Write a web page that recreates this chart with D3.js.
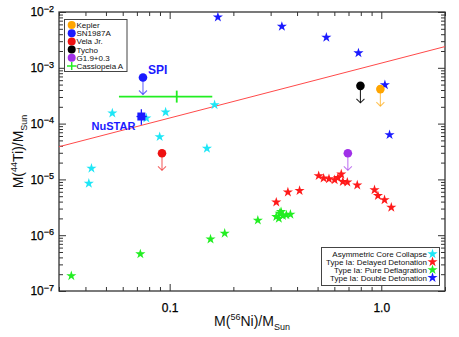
<!DOCTYPE html>
<html>
<head>
<meta charset="utf-8">
<script src="https://cdn.jsdelivr.net/npm/d3@7"></script>
<style>
  body { margin: 0; background: #fff; }
  svg { display: block; font-family: "Liberation Sans", Arial, sans-serif; }
</style>
</head>
<body>
<script>
// 44Ti vs 56Ni yields: models (stars) and observed remnants (circles / bars)

// Asymmetric core collapse models (cyan)
const ccX = [0.0427, 0.0415, 0.0536, 0.0776, 0.0897, 0.0957, 0.150, 0.163];
const ccY = [1.58e-5, 8.5e-6, 1.54e-4, 1.25e-4, 5.8e-5, 1.6e-4, 3.6e-5, 2.17e-4];

// Type Ia delayed detonation models (red)
const ddX = [0.319, 0.362, 0.411, 0.506, 0.534, 0.566, 0.602, 0.624, 0.647, 0.658, 0.691, 0.770, 0.929, 0.964, 1.036, 1.115];
const ddY = [3.9e-6, 5.9e-6, 6.3e-6, 1.16e-5, 1.05e-5, 1.02e-5, 9.8e-6, 1.07e-5, 1.24e-5, 9.1e-6, 8.9e-6, 7.9e-6, 6.5e-6, 5.1e-6, 4.3e-6, 3.15e-6];

// Type Ia pure deflagration models (green)
const pdX = [0.0343, 0.0727, 0.156, 0.182, 0.261, 0.319, 0.328, 0.331, 0.336, 0.343, 0.356, 0.372];
const pdY = [1.87e-7, 4.6e-7, 8.5e-7, 1.08e-6, 1.85e-6, 2.14e-6, 2.0e-6, 2.46e-6, 2.63e-6, 2.23e-6, 2.3e-6, 2.36e-6];

// Type Ia double detonation models (blue)
const dblX = [0.169, 0.339, 0.55, 0.78, 1.04, 1.094];
const dblY = [8.1e-3, 5.5e-3, 3.5e-3, 1.84e-3, 4.95e-4, 6.3e-5];

// Observed remnants given as upper limits
const limitNames = ["Kepler", "SN1987A", "Vela Jr.", "Tycho", "G1.9+0.3"];
const limitX = [0.99, 0.0748, 0.092, 0.797, 0.695];
const limitY = [4.15e-4, 6.7e-4, 2.94e-5, 4.75e-4, 2.94e-5];

// SN1987A NuSTAR measurement with error bars
const nustarX = 0.0735, nustarY = 1.34e-4;
const nustarXErr = [0.0697, 0.078];
const nustarYErr = [9.5e-5, 1.81e-4];

// Cassiopeia A with error bars
const casX = 0.108, casY = 3.05e-4;
const casXErr = [0.0576, 0.159];
const casYErr = [2.38e-4, 3.9e-4];

// Straight reference line (end points)
const fitX = [0.03, 2];
const fitY = [3.85e-5, 2.4e-3];

// Tick labels
const xMajor = [0.1, 1.0];
const xTickLabels = ["0.1", "1.0"];
const yMajor = [1e-7, 1e-6, 1e-5, 1e-4, 1e-3, 1e-2];
const yTickExp = ["\u22127", "\u22126", "\u22125", "\u22124", "\u22123", "\u22122"];

// Legend labels
const legendLeft = ["Kepler", "SN1987A", "Vela Jr.", "Tycho", "G1.9+0.3", "Cassiopeia A"];
const legendRight = ["Asymmetric Core Collapse", "Type Ia: Delayed Detonation", "Type Ia: Pure Deflagration", "Type Ia: Double Detonation"];

// Colours
const cCyan = "#1ee6f6", cRed = "#ff1a1a", cGreen = "#22ee22", cBlue = "#1a1aff";
const limitColors = { "Kepler": "#ffa500", "SN1987A": "#1a1aff", "Vela Jr.": "#ee1111", "Tycho": "#000000", "G1.9+0.3": "#a030e8" };
const axisColor = "#333";

const w = 459, h = 337;
const pLeft = 59, pRight = 445, pTop = 12, pBottom = 291;

const svg = d3.select("body").append("svg").attr("width", w).attr("height", h);

const x = d3.scaleLog().domain([0.03, 2]).range([pLeft, pRight]);
const y = d3.scaleLog().domain([1e-7, 1e-2]).range([pBottom, pTop]);

const isMajor = (t, majors) => majors.some(m => Math.abs(Math.log10(m) - Math.log10(t)) < 1e-6);
const xMinor = x.ticks().filter(t => !isMajor(t, xMajor));
const yMinor = y.ticks().filter(t => !isMajor(t, yMajor));

// Inward ticks on all four sides
function tickAxis(axisFn, scale, vals, size, transform) {
  const g = svg.append("g").attr("transform", transform)
    .call(axisFn(scale).tickValues(vals).tickSize(-size).tickSizeOuter(0).tickFormat(""));
  g.select(".domain").remove();
  g.selectAll("line").attr("stroke", axisColor).attr("stroke-width", 1);
  return g;
}
tickAxis(d3.axisBottom, x, xMinor, 4, `translate(0,${pBottom})`);
tickAxis(d3.axisBottom, x, xMajor, 7, `translate(0,${pBottom})`);
tickAxis(d3.axisTop, x, xMinor, 4, `translate(0,${pTop})`);
tickAxis(d3.axisTop, x, xMajor, 7, `translate(0,${pTop})`);
tickAxis(d3.axisLeft, y, yMinor, 4, `translate(${pLeft},0)`);
tickAxis(d3.axisLeft, y, yMajor, 7, `translate(${pLeft},0)`);
tickAxis(d3.axisRight, y, yMinor, 4, `translate(${pRight},0)`);
tickAxis(d3.axisRight, y, yMajor, 7, `translate(${pRight},0)`);

// Bottom labels
const bx = svg.append("g").attr("transform", `translate(0,${pBottom})`)
  .call(d3.axisBottom(x).tickValues(xMajor).tickSize(0).tickPadding(12)
    .tickFormat((d, i) => xTickLabels[i]));
bx.select(".domain").remove();
bx.attr("font-family", null);
bx.selectAll("text").attr("font-size", 12).attr("fill", "#000")
  .attr("stroke", "#000").attr("stroke-width", 0.25);

// Left labels with exponents
const ly = svg.append("g").attr("transform", `translate(${pLeft},0)`)
  .call(d3.axisLeft(y).tickValues(yMajor).tickSize(0).tickPadding(5).tickFormat(() => "10"));
ly.select(".domain").remove();
ly.attr("font-family", null);
ly.selectAll("text").attr("font-size", 12).attr("fill", "#000")
  .attr("stroke", "#000").attr("stroke-width", 0.25)
  .each(function(d, i) {
    d3.select(this).append("tspan").attr("dy", -4.5).attr("font-size", 9).text(yTickExp[i]);
  });

// Frame
svg.append("rect")
  .attr("x", pLeft).attr("y", pTop)
  .attr("width", pRight - pLeft).attr("height", pBottom - pTop)
  .attr("fill", "none").attr("stroke", axisColor).attr("stroke-width", 1.3);

// Reference line
svg.append("line")
  .attr("x1", x(fitX[0])).attr("y1", y(fitY[0]))
  .attr("x2", x(fitX[1])).attr("y2", y(fitY[1]))
  .attr("stroke", "#ff4a4a").attr("stroke-width", 1);

// Stars
const star = d3.symbol().type(d3.symbolStar).size(32);
function drawStars(xs, ys, color) {
  svg.append("g").selectAll("path")
    .data(xs.map((v, i) => [v, ys[i]]))
    .enter().append("path")
    .attr("d", star)
    .attr("transform", d => `translate(${x(d[0])},${y(d[1])})`)
    .attr("fill", color);
}
drawStars(ccX, ccY, cCyan);
drawStars(pdX, pdY, cGreen);
drawStars(ddX, ddY, cRed);
drawStars(dblX, dblY, cBlue);

// Upper limits: circle plus down arrow
const arrowLen = 17;
limitNames.forEach((name, i) => {
  const cx = x(limitX[i]), cy = y(limitY[i]);
  const col = limitColors[name];
  const g = svg.append("g").attr("stroke", col).attr("stroke-width", 1.1).attr("fill", "none")
    .attr("stroke-opacity", name === "Tycho" ? 0.85 : 0.65);
  g.append("line").attr("x1", cx).attr("y1", cy).attr("x2", cx).attr("y2", cy + arrowLen);
  g.append("path").attr("d", `M${cx - 4},${cy + arrowLen - 4}L${cx},${cy + arrowLen}L${cx + 4},${cy + arrowLen - 4}`);
  svg.append("circle").attr("cx", cx).attr("cy", cy).attr("r", 4.3).attr("fill", col);
});

// NuSTAR point
const ng = svg.append("g").attr("stroke", cBlue).attr("stroke-width", 1.3);
ng.append("line").attr("x1", x(nustarXErr[0])).attr("x2", x(nustarXErr[1]))
  .attr("y1", y(nustarY)).attr("y2", y(nustarY));
ng.append("line").attr("x1", x(nustarX)).attr("x2", x(nustarX))
  .attr("y1", y(nustarYErr[0])).attr("y2", y(nustarYErr[1]));
svg.append("rect").attr("x", x(nustarX) - 4).attr("y", y(nustarY) - 4)
  .attr("width", 8).attr("height", 8).attr("fill", cBlue);

// Cassiopeia A
const cg = svg.append("g").attr("stroke", cGreen).attr("stroke-width", 1.8);
cg.append("line").attr("x1", x(casXErr[0])).attr("x2", x(casXErr[1]))
  .attr("y1", y(casY)).attr("y2", y(casY));
cg.append("line").attr("x1", x(casX)).attr("x2", x(casX))
  .attr("y1", y(casYErr[0])).attr("y2", y(casYErr[1]));

// Labels SPI / NuSTAR
svg.append("text").attr("x", x(limitX[1]) + 5).attr("y", y(limitY[1]) - 4)
  .attr("font-size", 12).attr("font-weight", "bold").attr("fill", cBlue).text("SPI");
svg.append("text").attr("x", x(nustarX) - 6).attr("y", y(nustarY) + 13)
  .attr("text-anchor", "end")
  .attr("font-size", 11).attr("font-weight", "bold").attr("fill", cBlue).text("NuSTAR");

// Top-left legend
const lg = svg.append("g");
lg.append("rect").attr("x", 64.5).attr("y", 19.5).attr("width", 62.5).attr("height", 52)
  .attr("fill", "#fff").attr("stroke", "#444").attr("stroke-width", 1);
legendLeft.forEach((name, i) => {
  const cy = 25 + i * 8.2;
  if (name === "Cassiopeia A") {
    lg.append("line").attr("x1", 67).attr("x2", 76.5).attr("y1", cy).attr("y2", cy)
      .attr("stroke", cGreen).attr("stroke-width", 1.5);
    lg.append("line").attr("x1", 71.7).attr("x2", 71.7).attr("y1", cy - 4).attr("y2", cy + 4)
      .attr("stroke", cGreen).attr("stroke-width", 1.5);
  } else {
    lg.append("circle").attr("cx", 71.7).attr("cy", cy).attr("r", 4).attr("fill", limitColors[name]);
  }
  lg.append("text").attr("x", 76.5).attr("y", cy + 3).attr("font-size", 8).attr("fill", "#111").text(name);
});

// Bottom-right legend
const rg = svg.append("g");
rg.append("rect").attr("x", 321.5).attr("y", 247.5).attr("width", 118).attr("height", 38)
  .attr("fill", "#fff").attr("stroke", "#444").attr("stroke-width", 1);
const rightColors = [cCyan, cRed, cGreen, cBlue];
legendRight.forEach((name, i) => {
  const cy = 254 + i * 7.9;
  rg.append("text").attr("x", 427).attr("y", cy + 3).attr("text-anchor", "end")
    .attr("font-size", 8).attr("fill", "#111").text(name);
  rg.append("path").attr("d", star).attr("transform", `translate(432.5,${cy})`).attr("fill", rightColors[i]);
});

// Axis titles
const xt = svg.append("text").attr("x", (pLeft + pRight) / 2).attr("y", 326)
  .attr("text-anchor", "middle").attr("font-size", 14).attr("fill", "#111");
xt.append("tspan").text("M(");
xt.append("tspan").attr("dy", -6).attr("font-size", 9).text("56");
xt.append("tspan").attr("dy", 6).text("Ni)/M");
xt.append("tspan").attr("dy", 4).attr("font-size", 9).text("Sun");

const yt = svg.append("text")
  .attr("transform", `translate(23,${(pTop + pBottom) / 2}) rotate(-90)`)
  .attr("text-anchor", "middle").attr("font-size", 14).attr("fill", "#111");
yt.append("tspan").text("M(");
yt.append("tspan").attr("dy", -6).attr("font-size", 9).text("44");
yt.append("tspan").attr("dy", 6).text("Ti)/M");
yt.append("tspan").attr("dy", 4).attr("font-size", 9).text("Sun");
</script>
</body>
</html>
